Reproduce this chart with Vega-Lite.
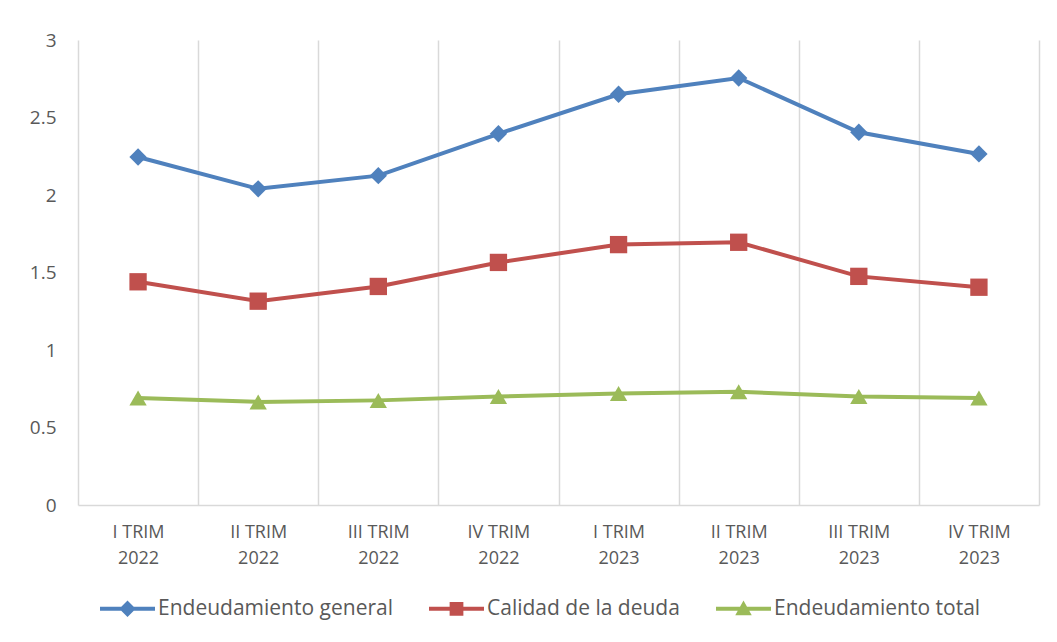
{
  "$schema": "https://vega.github.io/schema/vega-lite/v6.json",
  "width": 961,
  "height": 465,
  "autosize": {"type": "none"},
  "padding": {"left": 78, "top": 40, "right": 18, "bottom": 137},
  "background": "white",
  "config": {"view": {"stroke": null}, "font": "Open Sans"},
  "data": {
    "values": [
      {"trimestre": "I TRIM 2022", "serie": "Endeudamiento general", "valor": 2.245},
      {"trimestre": "II TRIM 2022", "serie": "Endeudamiento general", "valor": 2.04},
      {"trimestre": "III TRIM 2022", "serie": "Endeudamiento general", "valor": 2.125},
      {"trimestre": "IV TRIM 2022", "serie": "Endeudamiento general", "valor": 2.395},
      {"trimestre": "I TRIM 2023", "serie": "Endeudamiento general", "valor": 2.65},
      {"trimestre": "II TRIM 2023", "serie": "Endeudamiento general", "valor": 2.755},
      {"trimestre": "III TRIM 2023", "serie": "Endeudamiento general", "valor": 2.405},
      {"trimestre": "IV TRIM 2023", "serie": "Endeudamiento general", "valor": 2.265},
      {"trimestre": "I TRIM 2022", "serie": "Calidad de la deuda", "valor": 1.44},
      {"trimestre": "II TRIM 2022", "serie": "Calidad de la deuda", "valor": 1.315},
      {"trimestre": "III TRIM 2022", "serie": "Calidad de la deuda", "valor": 1.41},
      {"trimestre": "IV TRIM 2022", "serie": "Calidad de la deuda", "valor": 1.565},
      {"trimestre": "I TRIM 2023", "serie": "Calidad de la deuda", "valor": 1.68},
      {"trimestre": "II TRIM 2023", "serie": "Calidad de la deuda", "valor": 1.695},
      {"trimestre": "III TRIM 2023", "serie": "Calidad de la deuda", "valor": 1.475},
      {"trimestre": "IV TRIM 2023", "serie": "Calidad de la deuda", "valor": 1.405},
      {"trimestre": "I TRIM 2022", "serie": "Endeudamiento total", "valor": 0.69},
      {"trimestre": "II TRIM 2022", "serie": "Endeudamiento total", "valor": 0.665},
      {"trimestre": "III TRIM 2022", "serie": "Endeudamiento total", "valor": 0.675},
      {"trimestre": "IV TRIM 2022", "serie": "Endeudamiento total", "valor": 0.70},
      {"trimestre": "I TRIM 2023", "serie": "Endeudamiento total", "valor": 0.72},
      {"trimestre": "II TRIM 2023", "serie": "Endeudamiento total", "valor": 0.73},
      {"trimestre": "III TRIM 2023", "serie": "Endeudamiento total", "valor": 0.70},
      {"trimestre": "IV TRIM 2023", "serie": "Endeudamiento total", "valor": 0.69}
    ]
  },
  "encoding": {
    "x": {
      "field": "trimestre",
      "type": "ordinal",
      "sort": null,
      "bandPosition": 0.5,
      "scale": {"type": "band", "paddingInner": 0, "paddingOuter": 0},
      "axis": {
        "title": null,
        "tickBand": "extent",
        "grid": true,
        "gridColor": "#d9d9d9",
        "gridWidth": 1.5,
        "domainColor": "#d9d9d9",
        "domainWidth": 1.5,
        "ticks": false,
        "labelAngle": 0,
        "labelExpr": "[slice(datum.label, 0, -5), slice(datum.label, -4)]",
        "labelFont": "Open Sans",
        "labelFontSize": 18,
        "labelColor": "#595959",
        "labelPadding": 18,
        "labelLineHeight": 26
      }
    },
    "y": {
      "field": "valor",
      "type": "quantitative",
      "scale": {"domain": [0, 3]},
      "axis": {
        "title": null,
        "values": [0, 0.5, 1, 1.5, 2, 2.5, 3],
        "format": "~g",
        "grid": false,
        "domain": false,
        "ticks": false,
        "labelPadding": 22,
        "labelFont": "Open Sans",
        "labelFontSize": 19,
        "labelColor": "#595959"
      }
    },
    "color": {
      "field": "serie",
      "type": "nominal",
      "scale": {
        "domain": ["Endeudamiento general", "Calidad de la deuda", "Endeudamiento total"],
        "range": ["#4f81bd", "#c0504d", "#9bbb59"]
      },
      "legend": {
        "title": null,
        "orient": "none",
        "direction": "horizontal",
        "legendX": 22,
        "legendY": 541,
        "columnPadding": 36,
        "labelOffset": 3,
        "labelFont": "Open Sans",
        "labelFontSize": 21,
        "labelColor": "#595959",
        "labelLimit": 400,
        "symbolSize": 3025,
        "symbolOpacity": 1,
        "symbolStrokeWidth": 0
      }
    }
  },
  "layer": [
    {
      "mark": {"type": "point", "filled": true, "opacity": 0, "size": 10},
      "encoding": {
        "shape": {
          "field": "serie",
          "type": "nominal",
          "scale": {
            "domain": ["Endeudamiento general", "Calidad de la deuda", "Endeudamiento total"],
            "range": [
              "M-1,-0.07L1,-0.07L1,0.07L-1,0.07Z M0,-0.3L0.3,0L0,0.3L-0.3,0Z",
              "M-1,-0.07L1,-0.07L1,0.07L-1,0.07Z M-0.25,-0.25L0.25,-0.25L0.25,0.25L-0.25,0.25Z",
              "M-1,-0.07L1,-0.07L1,0.07L-1,0.07Z M0,-0.3L0.3,0.24L-0.3,0.24Z"
            ]
          },
          "legend": null
        }
      }
    },
    {"mark": {"type": "line", "strokeWidth": 4}},
    {
      "mark": {
        "type": "point",
        "filled": true,
        "opacity": 1,
        "size": 300,
        "shape": {"expr": "datum.serie === 'Endeudamiento general' ? 'diamond' : datum.serie === 'Calidad de la deuda' ? 'square' : 'triangle-up'"}
      }
    }
  ]
}
